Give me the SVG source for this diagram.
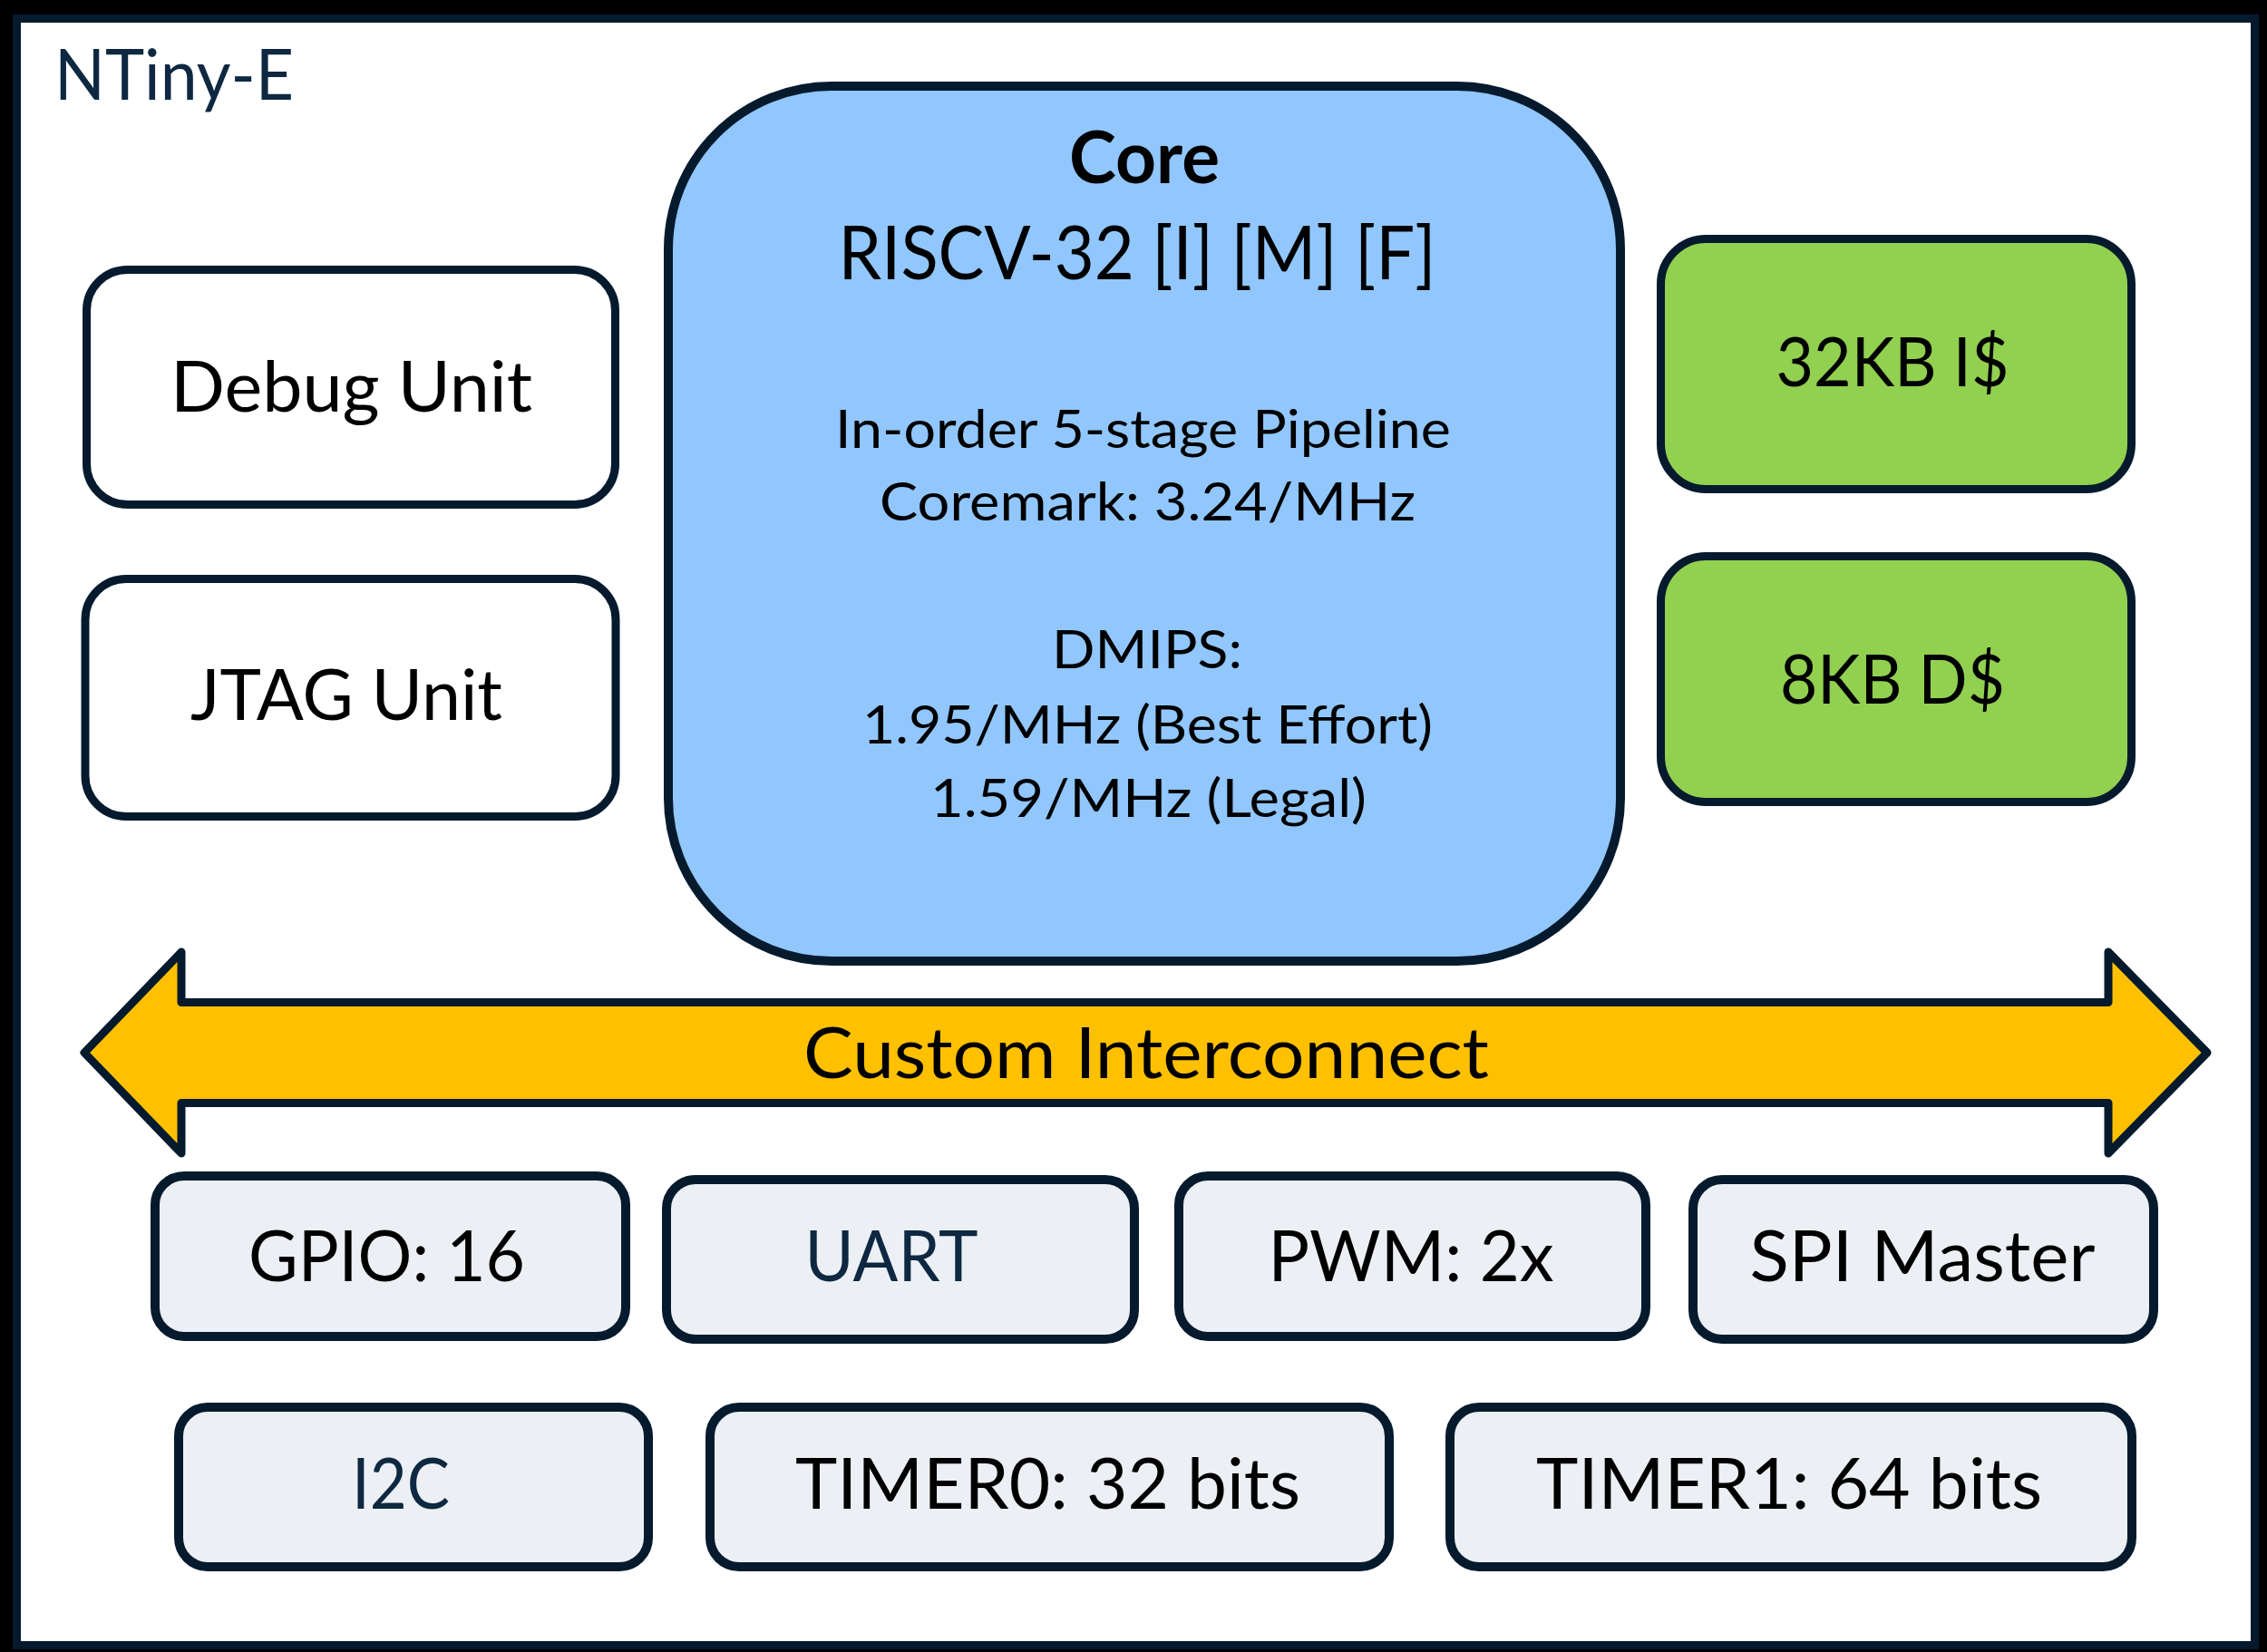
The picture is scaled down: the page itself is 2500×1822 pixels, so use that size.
<svg xmlns="http://www.w3.org/2000/svg" width="2500" height="1822" viewBox="0 0 2500 1822">
  <style>
    .t { font-family: Lato, "Open Sans", "Liberation Sans", sans-serif; fill: #000000; }
    .navy { fill: #0E2841; }
    .box { stroke: #061A2E; stroke-width: 9; }
    .white { fill: #FFFFFF; }
    .core { fill: #91C7FC; stroke-width: 10; }
    .cache { fill: #92D050; }
    .per { fill: #ECF0F4; stroke-width: 10; }
    .big { font-size: 78px; }
    .mid { font-size: 58px; }
  </style>
  <rect x="0" y="0" width="2500" height="1822" fill="#000000"/>
  <g id="frame">
    <rect x="18.5" y="20.5" width="2468" height="1794" fill="#FFFFFF" stroke="#061A2E" stroke-width="9"/>
    <text class="t navy big" x="60" y="110" textLength="264" lengthAdjust="spacingAndGlyphs">NTiny-E</text>
  </g>

  <g id="debug-unit">
    <rect class="box white" x="95.5" y="297.5" width="583" height="259" rx="45"/>
    <text class="t big" x="387.5" y="454" text-anchor="middle" textLength="399" lengthAdjust="spacingAndGlyphs">Debug Unit</text>
  </g>
  <g id="jtag-unit">
    <rect class="box white" x="94" y="638.5" width="585" height="262" rx="45"/>
    <text class="t big" x="382" y="794" text-anchor="middle" textLength="344" lengthAdjust="spacingAndGlyphs">JTAG Unit</text>
  </g>

  <g id="core">
    <rect class="box core" x="737" y="95" width="1050" height="965" rx="180"/>
    <text class="t" x="1262" y="202" text-anchor="middle" font-size="80" font-weight="bold" textLength="166" lengthAdjust="spacingAndGlyphs">Core</text>
    <text class="t" x="1254" y="308" text-anchor="middle" font-size="81" textLength="659" lengthAdjust="spacingAndGlyphs">RISCV-32 [I] [M] [F]</text>
    <text class="t mid" x="1260.5" y="494" text-anchor="middle" textLength="679" lengthAdjust="spacingAndGlyphs">In-order 5-stage Pipeline</text>
    <text class="t mid" x="1265.5" y="574" text-anchor="middle" textLength="591" lengthAdjust="spacingAndGlyphs">Coremark: 3.24/MHz</text>
    <text class="t mid" x="1265" y="737" text-anchor="middle" textLength="210" lengthAdjust="spacingAndGlyphs">DMIPS:</text>
    <text class="t mid" x="1265.5" y="820" text-anchor="middle" textLength="629" lengthAdjust="spacingAndGlyphs">1.95/MHz (Best Effort)</text>
    <text class="t mid" x="1266.5" y="901" text-anchor="middle" textLength="481" lengthAdjust="spacingAndGlyphs">1.59/MHz (Legal)</text>
  </g>

  <g id="icache">
    <rect class="box cache" x="1831.5" y="263.5" width="519" height="276" rx="50"/>
    <text class="t" x="2087" y="426" text-anchor="middle" font-size="76" textLength="257" lengthAdjust="spacingAndGlyphs">32KB I$</text>
  </g>
  <g id="dcache">
    <rect class="box cache" x="1831.5" y="613.5" width="519" height="271" rx="50"/>
    <text class="t" x="2087" y="776" text-anchor="middle" font-size="76" textLength="248" lengthAdjust="spacingAndGlyphs">8KB D$</text>
  </g>

  <g id="connectors">
    <g id="custom-interconnect">
      <polygon points="93,1161 200,1050 200,1105.5 2325,1105.5 2325,1050 2434,1161 2325,1272 2325,1216.5 200,1216.5 200,1272" fill="#FFC000" stroke="#061A2E" stroke-width="9" stroke-linejoin="round"/>
      <text class="t big" x="1264" y="1189" text-anchor="middle" textLength="756" lengthAdjust="spacingAndGlyphs">Custom Interconnect</text>
    </g>
  </g>

  <g id="gpio">
    <rect class="box per" x="171" y="1297" width="519" height="177" rx="32"/>
    <text class="t big" x="426.5" y="1413" text-anchor="middle" textLength="305" lengthAdjust="spacingAndGlyphs">GPIO: 16</text>
  </g>
  <g id="uart">
    <rect class="box per" x="735" y="1301" width="516" height="176" rx="32"/>
    <text class="t navy big" x="983" y="1413" text-anchor="middle" textLength="191" lengthAdjust="spacingAndGlyphs">UART</text>
  </g>
  <g id="pwm">
    <rect class="box per" x="1300" y="1297" width="515" height="177" rx="32"/>
    <text class="t big" x="1556" y="1413" text-anchor="middle" textLength="315" lengthAdjust="spacingAndGlyphs">PWM: 2x</text>
  </g>
  <g id="spi-master">
    <rect class="box per" x="1867" y="1301" width="508" height="176" rx="32"/>
    <text class="t big" x="2120" y="1413" text-anchor="middle" textLength="381" lengthAdjust="spacingAndGlyphs">SPI Master</text>
  </g>
  <g id="i2c">
    <rect class="box per" x="197" y="1552" width="518" height="176" rx="32"/>
    <text class="t navy big" x="442" y="1664" text-anchor="middle" textLength="108" lengthAdjust="spacingAndGlyphs">I2C</text>
  </g>
  <g id="timer0">
    <rect class="box per" x="783" y="1552" width="749" height="176" rx="32"/>
    <text class="t big" x="1155.5" y="1664" text-anchor="middle" textLength="557" lengthAdjust="spacingAndGlyphs">TIMER0: 32 bits</text>
  </g>
  <g id="timer1">
    <rect class="box per" x="1599" y="1552" width="752" height="176" rx="32"/>
    <text class="t big" x="1973" y="1664" text-anchor="middle" textLength="558" lengthAdjust="spacingAndGlyphs">TIMER1: 64 bits</text>
  </g>
</svg>
